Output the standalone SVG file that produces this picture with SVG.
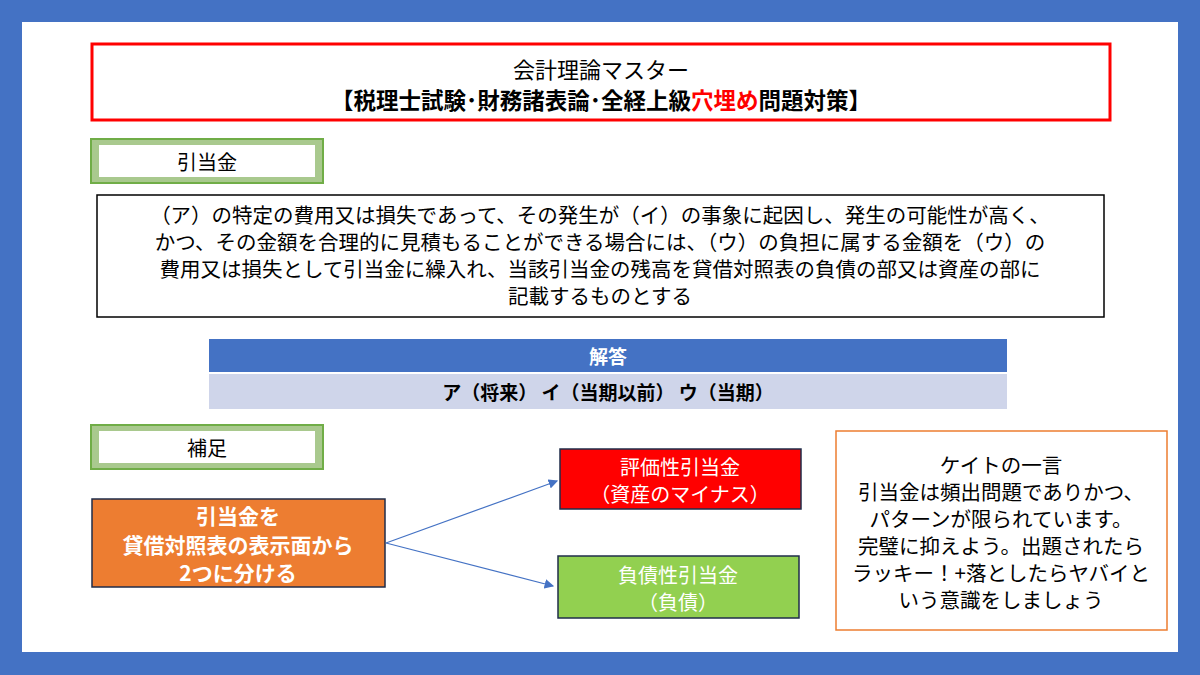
<svg xmlns="http://www.w3.org/2000/svg" width="1200" height="675" viewBox="0 0 1200 675">
<style>
text{font-family:"Noto Sans CJK JP","Noto Sans",sans-serif;text-anchor:middle;fill:#000}
.w{fill:#fff}
.b{font-weight:bold}
</style>
<defs><marker id="a" markerWidth="8" markerHeight="8" refX="7" refY="4" orient="auto"><path d="M0,0L8,4L0,8z" fill="#4472C4"/></marker></defs>
<rect width="1200" height="675" fill="#4472C4"/>
<rect x="22" y="22" width="1156" height="630" fill="#fff"/>
<g id="title"><rect x="92" y="44" width="1018" height="76" fill="#fff" stroke="#f00" stroke-width="3"/>
<text x="601" y="78" font-size="22">会計理論マスター</text>
<text x="601" y="109" font-size="22.5" class="b">【税理士試験･財務諸表論･全経上級<tspan fill="#f00">穴埋め</tspan>問題対策】</text></g>
<g id="h1"><rect x="91" y="139" width="232" height="44" fill="#a9c98e" stroke="#70AD47" stroke-width="2"/><rect x="99" y="145" width="216" height="32" fill="#fff"/>
<text x="207" y="170" font-size="20">引当金</text></g>
<g id="q"><rect x="97" y="195" width="1007" height="122" fill="#fff" stroke="#000" stroke-width="1.5"/>
<text font-size="20.5"><tspan x="600" y="223">（ア）の特定の費用又は損失であって、その発生が（イ）の事象に起因し、発生の可能性が高く、</tspan><tspan x="600" y="250">かつ、その金額を合理的に見積もることができる場合には、（ウ）の負担に属する金額を（ウ）の</tspan><tspan x="600" y="277">費用又は損失として引当金に繰入れ、当該引当金の残高を貸借対照表の負債の部又は資産の部に</tspan><tspan x="600" y="304">記載するものとする</tspan></text></g>
<g id="ans"><rect x="209" y="339" width="798" height="33" fill="#4472C4"/><rect x="209" y="374" width="798" height="35" fill="#CFD5EA"/>
<text x="608" y="364" font-size="19" class="b w">解答</text>
<text x="608" y="400" font-size="19" class="b">ア（将来） イ（当期以前） ウ（当期）</text></g>
<g id="h2"><rect x="91" y="425" width="232" height="44" fill="#a9c98e" stroke="#70AD47" stroke-width="2"/><rect x="99" y="431" width="216" height="32" fill="#fff"/>
<text x="207" y="456" font-size="20">補足</text></g>
<g id="o"><rect x="92" y="499" width="293" height="88" fill="#ED7D31" stroke="#1f2d4a" stroke-width="1.5"/>
<text font-size="21" class="w b"><tspan x="238" y="524">引当金を</tspan><tspan x="238" y="553">貸借対照表の表示面から</tspan><tspan x="238" y="581">2つに分ける</tspan></text></g>
<g id="r"><rect x="560" y="449" width="241" height="60" fill="#f00" stroke="#1f2d4a" stroke-width="1.5"/>
<text font-size="20" class="w"><tspan x="680" y="475">評価性引当金</tspan><tspan x="680" y="502">（資産のマイナス）</tspan></text></g>
<g id="g"><rect x="558" y="556" width="241" height="62" fill="#92D050" stroke="#1f2d4a" stroke-width="1.5"/>
<text font-size="20" class="w"><tspan x="678" y="583">負債性引当金</tspan><tspan x="678" y="610">（負債）</tspan></text></g>
<g id="n"><rect x="836" y="431" width="331" height="199" fill="#fff" stroke="#ED7D31" stroke-width="1.5"/>
<text font-size="20.5"><tspan x="1001" y="473">ケイトの一言</tspan><tspan x="1001" y="500">引当金は頻出問題でありかつ、</tspan><tspan x="1001" y="527">パターンが限られています。</tspan><tspan x="1001" y="554">完璧に抑えよう。出題されたら</tspan><tspan x="1001" y="581">ラッキー！+落としたらヤバイと</tspan><tspan x="1001" y="608">いう意識をしましょう</tspan></text></g>
<g id="conn" stroke="#4472C4" stroke-width="1.2" fill="none">
<line x1="386" y1="543" x2="557" y2="481" marker-end="url(#a)"/>
<line x1="386" y1="543" x2="553" y2="586" marker-end="url(#a)"/>
</g>
</svg>
